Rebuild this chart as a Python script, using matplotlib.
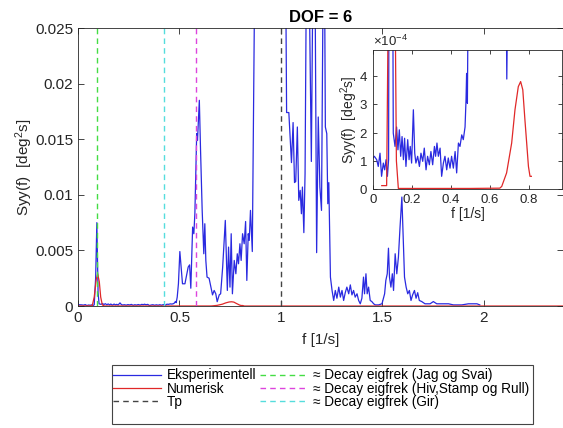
import numpy as np
import matplotlib
matplotlib.use('Agg')
import matplotlib.pyplot as plt
import matplotlib.patches as mpatches
from matplotlib.ticker import ScalarFormatter

plt.rcParams['font.family'] = ['Liberation Sans', 'DejaVu Sans']
plt.rcParams['mathtext.default'] = 'regular'

exp_f = [0.0, 0.007, 0.019, 0.027, 0.036, 0.044, 0.053, 0.06, 0.067, 0.074,
         0.080, 0.087, 0.093, 0.099, 0.104, 0.113, 0.121, 0.128, 0.135, 0.142,
         0.149, 0.156, 0.162, 0.169, 0.178, 0.185, 0.191, 0.198, 0.207, 0.214,
         0.22, 0.229, 0.238, 0.246, 0.255, 0.263, 0.272, 0.28, 0.289, 0.297,
         0.306, 0.315, 0.321, 0.328, 0.335, 0.344, 0.352, 0.361, 0.369, 0.378,
         0.386, 0.395, 0.403, 0.412, 0.421, 0.429, 0.438, 0.446, 0.455, 0.463,
         0.472, 0.477, 0.48, 0.484, 0.489, 0.495,
         0.502, 0.515, 0.527, 0.543, 0.55, 0.556, 0.565, 0.571, 0.576, 0.585,
         0.589, 0.598, 0.604, 0.612, 0.62, 0.625, 0.63, 0.636, 0.646, 0.655,
         0.663, 0.671, 0.679, 0.686, 0.696, 0.703, 0.713, 0.726, 0.736, 0.742,
         0.749, 0.755, 0.761, 0.77, 0.778, 0.785, 0.791, 0.798, 0.804, 0.811,
         0.819, 0.826, 0.832, 0.839, 0.844, 0.85, 0.859, 0.872, 0.9, 0.95,
         1.0, 1.02, 1.028, 1.039, 1.052, 1.06, 1.067, 1.073, 1.081, 1.088,
         1.095, 1.101, 1.106, 1.113, 1.119, 1.129, 1.14, 1.15, 1.16, 1.168,
         1.176, 1.184, 1.192, 1.2, 1.212, 1.219, 1.226, 1.231, 1.236, 1.244,
         1.252, 1.26, 1.268, 1.276, 1.285, 1.293, 1.301, 1.309, 1.317, 1.325,
         1.334, 1.342, 1.35, 1.358, 1.366, 1.375, 1.383, 1.391, 1.399, 1.407,
         1.412, 1.419, 1.425, 1.432, 1.44, 1.448, 1.457, 1.465, 1.481, 1.498,
         1.511, 1.517, 1.524, 1.53, 1.535, 1.542, 1.549, 1.555, 1.563, 1.571,
         1.579, 1.587, 1.596, 1.602, 1.609, 1.617, 1.625, 1.633, 1.641, 1.649,
         1.658, 1.666, 1.674, 1.682, 1.694, 1.71, 1.735, 1.751, 1.768, 1.793,
         1.826, 1.85, 1.891, 1.924, 1.966, 1.98]
exp_S = [1.1e-4, 1.16e-4, 1.04e-4, 0.8e-4, 1.27e-4, 0.45e-4, 0.92e-4, 0.68e-4, 1.04e-4, 0.45e-4,
         1.04e-4, 25e-4, 75e-4, 12e-4, 1.98e-4, 1.51e-4, 2.2e-4, 1.39e-4, 2.1e-4, 1.16e-4,
         1.86e-4, 1.04e-4, 1.8e-4, 0.8e-4, 1.75e-4, 1.04e-4, 1.51e-4, 0.92e-4, 2.81e-4, 1.27e-4,
         0.92e-4, 1.16e-4, 0.8e-4, 1.27e-4, 0.98e-4, 1.45e-4, 0.68e-4, 1.16e-4, 0.86e-4, 1.33e-4,
         0.86e-4, 1.51e-4, 1.16e-4, 1.63e-4, 1.16e-4, 1.45e-4, 0.45e-4, 0.92e-4, 1.16e-4, 0.68e-4,
         1.1e-4, 0.74e-4, 1.16e-4, 0.74e-4, 1.33e-4, 0.57e-4, 1.63e-4, 1.51e-4, 1.92e-4, 1.75e-4,
         2.2e-4, 3.16e-4, 4.1e-4, 3.04e-4, 8e-4, 20e-4,
         0.0049, 0.0020, 0.0020, 0.0035, 0.0037, 0.0016, 0.0071, 0.0065, 0.0083, 0.0155,
         0.0149, 0.0185, 0.014, 0.0086, 0.0047, 0.0074, 0.0041, 0.0026, 0.0025, 0.0017,
         0.001, 0.0014, 0.0011, 0.00039, 0.001, 0.0011, 0.0035, 0.0077, 0.0014, 0.0053,
         0.0017, 0.0065, 0.0011, 0.0041, 0.0029, 0.0047, 0.0038, 0.0056, 0.0041, 0.0065,
         0.0056, 0.0076, 0.0023, 0.0065, 0.0059, 0.0086, 0.0049, 0.032, 0.06, 0.09,
         0.07, 0.04, 0.0174, 0.0174, 0.0129, 0.0165, 0.0111, 0.0112, 0.0161, 0.0095,
         0.0104, 0.0083, 0.0107, 0.0066, 0.0119, 0.04, 0.028, 0.013, 0.035, 0.03,
         0.0048, 0.017, 0.0107, 0.0086, 0.04, 0.0161, 0.0155, 0.0092, 0.0111, 0.0026,
         0.0014, 0.0005, 0.0014, 0.0007, 0.0017, 0.0008, 0.0014, 0.0005, 0.0012, 0.0017,
         0.0011, 0.0019, 0.001, 0.0014, 0.0008, 0.0011, 0.0005, 0.0002, 0.0007, 0.0026,
         0.0011, 0.0029, 0.0011, 0.0017, 0.0005, 0.0004, 0.0002, 0.0001, 0.0001, 0.0002,
         0.0011, 0.0023, 0.0029, 0.0052, 0.0026, 0.0017, 0.0029, 0.0014, 0.0047, 0.0029,
         0.0044, 0.0071, 0.0098, 0.0065, 0.0026, 0.0017, 0.0011, 0.0014, 0.0005, 0.001,
         0.0014, 0.0007, 0.0012, 0.0005, 0.0004, 0.0002, 0.0002, 0.0004, 0.0002, 0.0002,
         0.0002, 0.0001, 0.0001, 0.0002, 0.0002, 0.0001]

# Numerical spectrum
num_f = [0.0, 0.045, 0.07, 0.08, 0.09, 0.097, 0.105, 0.112, 0.12, 0.13,
         0.3, 0.5, 0.65, 0.66, 0.685, 0.711, 0.728, 0.745, 0.757, 0.768,
         0.779, 0.788, 0.797, 0.805, 0.812, 0.82, 2.4]
num_S = [0.0, 0.12e-4, 0.12e-4, 0.0008, 0.0024, 0.0029, 0.0022, 0.0008, 0.0001, 0.02e-4,
         0.02e-4, 0.02e-4, 0.03e-4, 0.09e-4, 0.57e-4, 1.63e-4, 2.81e-4, 3.63e-4, 3.81e-4, 3.52e-4,
         2.45e-4, 1.63e-4, 0.8e-4, 0.45e-4, 0.45e-4, 0.0, 0.0]

Tp = 1.0
f_jag_svai = 0.092
f_hiv_stamp_rull = 0.581
f_gir = 0.422

labels = ['Eksperimentell', 'Numerisk', 'Tp',
          '\u2248 Decay eigfrek (Jag og Svai)',
          '\u2248 Decay eigfrek (Hiv,Stamp og Rull)',
          '\u2248 Decay eigfrek (Gir)']

c_blue = '#2a2ae0'
c_red = '#e02828'
c_txt = '#262626'

fig = plt.figure(figsize=(5.63, 4.28), dpi=100)
ax = fig.add_axes([0.1385, 0.285, 0.8615, 0.6495])

h1, = ax.plot(exp_f, exp_S, color=c_blue, lw=0.9)
h2, = ax.plot(num_f, num_S, color=c_red, lw=0.9)
h3 = ax.axvline(Tp, color='#444444', ls=(0, (4, 3)), lw=1.0)
h4 = ax.axvline(f_jag_svai, color='#44dd44', ls=(0, (4, 3)), lw=1.0)
h5 = ax.axvline(f_hiv_stamp_rull, color='#dd44dd', ls=(0, (4, 3)), lw=1.0)
h6 = ax.axvline(f_gir, color='#55dddd', ls=(0, (4, 3)), lw=1.0)

ax.set_xlim(0, 2.39)
ax.set_ylim(0, 0.025)
ax.set_xticks([0, 0.5, 1, 1.5, 2])
ax.set_xticklabels(['0', '0.5', '1', '1.5', '2'])
ax.set_yticks([0, 0.005, 0.01, 0.015, 0.02, 0.025])
ax.set_yticklabels(['0', '0.005', '0.01', '0.015', '0.02', '0.025'])
ax.tick_params(direction='in', top=True, right=True, labelsize=11,
               colors=c_txt, length=4, width=0.6)
for s in ax.spines.values():
    s.set_color(c_txt)
    s.set_linewidth(0.6)
ax.set_xlabel('f [1/s]', fontsize=11, color=c_txt, labelpad=6)
ax.set_ylabel('Syy(f)  [deg$^2$s]', fontsize=11, color=c_txt, labelpad=0)
ax.set_title('DOF = 6', fontsize=12, fontweight='bold', pad=4)

# Inset zoom
axi = fig.add_axes([0.6625, 0.5584, 0.3357, 0.3248])
ef = np.array(exp_f)
es = np.array(exp_S)
nf = np.array(num_f)
ns = np.array(num_S)
m = (nf >= 0.045) & (nf <= 0.812)
axi.plot(ef, es, color=c_blue, lw=0.9)
axi.plot(nf[m], ns[m], color=c_red, lw=0.9)
axi.set_xlim(0, 0.969)
axi.set_ylim(0, 4.93e-4)
axi.set_xticks([0, 0.2, 0.4, 0.6, 0.8])
axi.set_xticklabels(['0', '0.2', '0.4', '0.6', '0.8'])
axi.set_yticks([0, 1e-4, 2e-4, 3e-4, 4e-4])
fmt = ScalarFormatter(useMathText=True)
fmt.set_powerlimits((-3, 3))
axi.yaxis.set_major_formatter(fmt)
axi.yaxis.get_offset_text().set_fontsize(9.5)
axi.yaxis.get_offset_text().set_color('#777777')
axi.tick_params(direction='in', top=True, right=True, labelsize=9.5,
                colors=c_txt, length=3, width=0.6)
for s in axi.spines.values():
    s.set_color(c_txt)
    s.set_linewidth(0.6)
axi.set_xlabel('f [1/s]', fontsize=10, color=c_txt, labelpad=1)
axi.set_ylabel('Syy(f)  [deg$^2$s]', fontsize=10, color=c_txt, labelpad=-1)

# Legend: contents sit high in a taller box, as in the original
box = mpatches.Rectangle((0.199, 0.009), 0.748, 0.138, transform=fig.transFigure,
                         facecolor='white', edgecolor='#444444', lw=0.8)
fig.patches.append(box)
leg = fig.legend([h1, h2, h3, h4, h5, h6], labels, loc='center',
                 bbox_to_anchor=(0.571, 0.092), ncol=2, fontsize=9.8,
                 frameon=False, handlelength=3.5, handletextpad=0.4,
                 columnspacing=0.3, labelspacing=-0.05, borderpad=0.2,
                 borderaxespad=0)

fig.savefig('out.png', dpi=100)
